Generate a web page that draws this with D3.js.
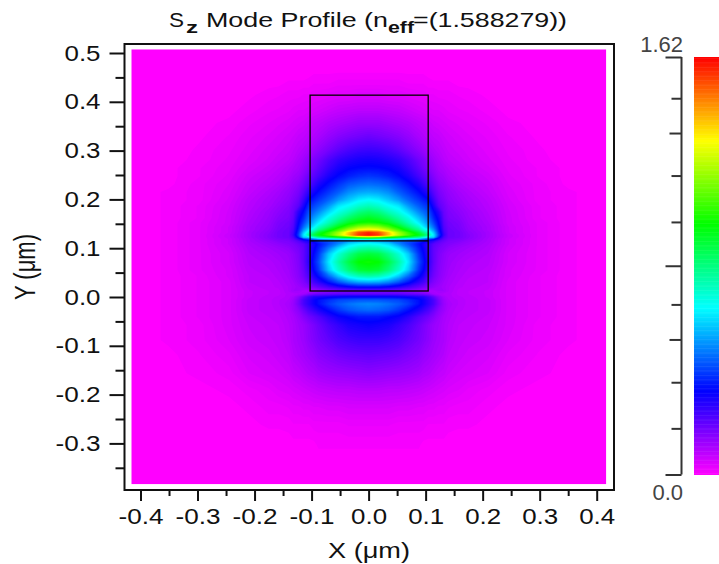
<!DOCTYPE html>
<html>
<head>
<meta charset="utf-8">
<script src="https://cdn.jsdelivr.net/npm/d3@7"></script>
<style>
  html, body { margin: 0; background: #fff; }
  svg { display: block; }
  text { font-family: "Liberation Sans", Arial, sans-serif; fill: #111; }
</style>
</head>
<body>
<svg></svg>
<script>
const width = 719;
const height = 564;

const xTicks = [-0.4, -0.3, -0.2, -0.1, 0, 0.1, 0.2, 0.3, 0.4];
const xMinorTicks = [-0.35, -0.25, -0.15, -0.05, 0.05, 0.15, 0.25, 0.35];
const yTicks = [-0.3, -0.2, -0.1, 0, 0.1, 0.2, 0.3, 0.4, 0.5];
const yMinorTicks = [-0.35, -0.25, -0.15, -0.05, 0.05, 0.15, 0.25, 0.35, 0.45];

const colorStops = [0, 0.324, 0.648, 0.972, 1.296, 1.62];
const colorNames = ["#ff00ff", "#0000ff", "#00ffff", "#00ff00", "#ffff00", "#ff0000"];
const barMajorTicks = [0, 0.81, 1.62];
const barMiddleTicks = [0.524, 1.325];
const barMinorTicks = [0.179, 0.358, 0.66, 0.98, 1.16, 1.46];

const boxX = [-0.1026, 0.1045];
const boxY = [0.0123, 0.4136];
const interfaceY = 0.115;

const fieldX = [0, 0.0175, 0.035, 0.053, 0.07, 0.088, 0.096, 0.105, 0.114, 0.123, 0.132, 0.14, 0.158, 0.175, 0.21, 0.245, 0.298, 0.351, 0.42];
const fieldY = [0.51, 0.465, 0.4385, 0.414, 0.383, 0.3566, 0.328, 0.301, 0.281, 0.264, 0.248, 0.2316, 0.215, 0.199, 0.1865, 0.174, 0.162, 0.152, 0.1434, 0.137, 0.132, 0.127, 0.123, 0.119, 0.115, 0.1086, 0.1004, 0.088, 0.0717, 0.0553, 0.043, 0.0307, 0.0205, 0.0123, 0.006, 0, -0.006, -0.0143, -0.0266, -0.041, -0.0574, -0.088, -0.119, -0.156, -0.1906, -0.2254, -0.262, -0.303, -0.344, -0.385];
const fieldRows = [
  [0,0,0,0,0,0,0,0,0,0,0,0,0,0,0,0,0,0,0],
  [.005,.005,.005,.005,.005,.005,.005,.005,0,0,0,0,0,0,0,0,0,0,0],
  [.02,.02,.02,.02,.015,.015,.015,.01,.01,.01,.01,.01,.005,.005,0,0,0,0,0],
  [.045,.045,.04,.04,.035,.03,.03,.025,.025,.02,.02,.02,.015,.012,.006,0,0,0,0],
  [.085,.085,.08,.075,.065,.055,.05,.045,.04,.04,.035,.03,.025,.022,.012,.005,0,0,0],
  [.13,.13,.12,.11,.10,.085,.08,.07,.06,.055,.05,.045,.038,.032,.022,.01,.005,0,0],
  [.19,.18,.17,.155,.135,.11,.10,.09,.08,.075,.065,.06,.05,.042,.03,.017,.006,0,0],
  [.25,.245,.23,.205,.175,.145,.13,.115,.10,.09,.08,.07,.06,.052,.036,.022,.01,0,0],
  [.30,.295,.28,.26,.225,.18,.165,.14,.12,.105,.09,.08,.07,.058,.042,.026,.01,.005,0],
  [.335,.33,.32,.295,.255,.205,.18,.16,.135,.115,.105,.095,.08,.068,.05,.03,.015,.005,0],
  [.39,.38,.36,.33,.29,.235,.21,.19,.155,.13,.12,.105,.09,.078,.06,.034,.015,.005,0],
  [.46,.45,.43,.385,.34,.285,.25,.22,.18,.15,.135,.12,.10,.088,.068,.04,.02,.005,0],
  [.54,.53,.50,.44,.39,.335,.30,.27,.21,.17,.15,.135,.115,.10,.075,.045,.02,.01,0],
  [.65,.63,.58,.52,.45,.39,.36,.33,.25,.19,.165,.145,.125,.11,.085,.05,.02,.01,0],
  [.74,.71,.66,.62,.52,.44,.41,.38,.29,.21,.18,.155,.135,.115,.09,.055,.025,.01,0],
  [.84,.81,.74,.68,.60,.50,.46,.42,.335,.27,.19,.165,.145,.125,.095,.058,.025,.01,0],
  [.93,.90,.84,.76,.68,.57,.52,.46,.37,.30,.20,.17,.155,.13,.10,.06,.025,.01,0],
  [1.0,.98,.93,.84,.74,.63,.57,.50,.41,.32,.21,.18,.165,.135,.105,.06,.03,.01,0],
  [1.18,1.15,1.06,.95,.83,.72,.63,.56,.46,.34,.22,.185,.17,.14,.11,.065,.03,.01,0],
  [1.33,1.30,1.2,1.06,.93,.80,.70,.64,.52,.36,.23,.19,.175,.145,.11,.065,.03,.01,0],
  [1.58,1.52,1.36,1.17,1.03,.90,.80,.71,.58,.38,.24,.19,.18,.15,.115,.065,.03,.01,0],
  [1.6,1.55,1.38,1.2,1.06,.95,.88,.78,.62,.40,.25,.19,.18,.155,.115,.07,.03,.01,0],
  [1.15,1.10,1.02,.95,.88,.80,.72,.62,.60,.36,.23,.19,.18,.155,.115,.07,.03,.01,0],
  [.72,.70,.65,.62,.58,.52,.47,.42,.36,.28,.21,.18,.17,.15,.11,.065,.03,.01,0],
  [.55,.53,.50,.46,.42,.38,.34,.30,.27,.22,.19,.17,.16,.14,.11,.065,.03,.01,0],
  [.66,.64,.60,.50,.42,.34,.30,.26,.21,.19,.17,.16,.145,.13,.105,.065,.03,.01,0],
  [.76,.74,.68,.60,.48,.36,.31,.26,.20,.175,.16,.145,.13,.12,.10,.06,.03,.01,0],
  [.90,.88,.80,.70,.58,.39,.33,.26,.20,.165,.145,.13,.12,.11,.095,.055,.03,.01,0],
  [.99,.97,.88,.76,.62,.42,.35,.27,.20,.16,.14,.125,.11,.10,.09,.055,.03,.01,0],
  [.92,.90,.82,.71,.58,.39,.33,.25,.19,.155,.135,.12,.105,.095,.085,.05,.03,.01,0],
  [.76,.74,.68,.58,.46,.34,.29,.23,.18,.15,.13,.115,.10,.09,.08,.05,.025,.01,0],
  [.55,.54,.50,.43,.35,.27,.24,.20,.16,.14,.12,.11,.095,.085,.08,.045,.025,.01,0],
  [.33,.33,.31,.28,.24,.20,.18,.16,.14,.125,.115,.105,.09,.085,.075,.045,.025,.01,0],
  [.17,.17,.17,.16,.15,.13,.12,.11,.11,.12,.12,.105,.085,.08,.07,.045,.025,.01,0],
  [.20,.20,.20,.20,.19,.18,.17,.15,.12,.11,.10,.10,.085,.08,.07,.045,.025,.01,0],
  [.33,.33,.33,.32,.31,.29,.28,.25,.20,.15,.115,.10,.09,.085,.07,.045,.025,.01,0],
  [.43,.43,.42,.41,.38,.34,.31,.27,.23,.17,.125,.105,.095,.085,.075,.045,.025,.01,0],
  [.50,.49,.47,.44,.40,.34,.31,.27,.23,.175,.13,.11,.095,.085,.075,.045,.025,.01,0],
  [.46,.45,.43,.39,.34,.29,.26,.23,.19,.15,.125,.105,.09,.085,.075,.045,.025,.01,0],
  [.35,.35,.33,.31,.27,.22,.20,.18,.155,.13,.11,.10,.085,.08,.07,.045,.025,.01,0],
  [.31,.30,.29,.26,.23,.19,.17,.15,.13,.12,.105,.095,.08,.075,.065,.045,.02,.01,0],
  [.25,.25,.24,.225,.20,.175,.16,.145,.125,.115,.105,.09,.075,.07,.06,.04,.02,.01,0],
  [.20,.195,.19,.18,.165,.15,.135,.125,.115,.105,.095,.08,.07,.06,.05,.03,.015,.005,0],
  [.145,.14,.135,.13,.125,.115,.105,.10,.09,.08,.075,.065,.055,.05,.04,.02,.01,.005,0],
  [.09,.09,.085,.085,.08,.075,.07,.065,.06,.055,.05,.045,.04,.03,.02,.01,.005,0,0],
  [.05,.05,.05,.045,.045,.04,.04,.035,.035,.03,.03,.025,.02,.02,.01,.005,0,0,0],
  [.025,.025,.025,.02,.02,.02,.02,.015,.015,.015,.015,.01,.01,.01,.005,0,0,0,0],
  [.01,.01,.01,.01,.01,.01,.005,.005,.005,.005,.005,.005,0,0,0,0,0,0,0],
  [0,0,0,0,0,0,0,0,0,0,0,0,0,0,0,0,0,0,0],
  [0,0,0,0,0,0,0,0,0,0,0,0,0,0,0,0,0,0,0],
];

const svg = d3.select("svg").attr("width", width).attr("height", height);

const xScale = d3.scaleLinear().domain([-0.4, 0.4]).range([140.5, 596.7]);
const yScale = d3.scaleLinear().domain([0, 0.5]).range([297, 53]);
const color = d3.scaleLinear().domain(colorStops).range(colorNames);
const barScale = d3.scaleLinear().domain([0, 1.62]).range([474.5, 57]);

const frame = { left: 124.5, right: 614, top: 44, bottom: 490 };
const heat = { left: 131.3, right: 606.3, top: 49.3, bottom: 484.3 };

// heat map: filled iso-bands over the read grid, mirrored for the left half
const fullX = fieldX.slice(1).reverse().map((d) => -d).concat(fieldX);
const values = [];
fieldRows.forEach((row) => {
  row.slice(1).reverse().concat(row).forEach((v) => values.push(v));
});

const gridX = d3.scaleLinear().domain(fullX.map((d, i) => i + 0.5)).range(fullX.map(xScale));
const gridY = d3.scaleLinear().domain(fieldY.map((d, i) => i + 0.5)).range(fieldY.map(yScale));
const gridPath = d3.geoPath(d3.geoTransform({
  point(x, y) {
    this.stream.point(gridX(x), gridY(y));
  },
}));

const bandStep = 0.008;
const contours = d3.contours()
  .size([fullX.length, fieldY.length])
  .smooth(true)
  .thresholds(d3.range(bandStep, 1.62, bandStep))(values);

svg.append("clipPath").attr("id", "heat-clip").append("rect")
  .attr("x", heat.left).attr("y", heat.top)
  .attr("width", heat.right - heat.left).attr("height", heat.bottom - heat.top);

const heatLayer = svg.append("g").attr("clip-path", "url(#heat-clip)");
heatLayer.append("rect")
  .attr("x", heat.left).attr("y", heat.top)
  .attr("width", heat.right - heat.left).attr("height", heat.bottom - heat.top)
  .attr("fill", color(0));
heatLayer.selectAll("path").data(contours).join("path")
  .attr("d", gridPath)
  .attr("fill", (d) => color(d.value + bandStep / 2));

// waveguide outline
svg.append("rect")
  .attr("x", xScale(boxX[0])).attr("y", yScale(boxY[1]))
  .attr("width", xScale(boxX[1]) - xScale(boxX[0]))
  .attr("height", yScale(boxY[0]) - yScale(boxY[1]))
  .attr("fill", "none").attr("stroke", "#000").attr("stroke-width", 1.3);
svg.append("line")
  .attr("x1", xScale(boxX[0])).attr("x2", xScale(boxX[1]))
  .attr("y1", yScale(interfaceY)).attr("y2", yScale(interfaceY))
  .attr("stroke", "#000").attr("stroke-width", 1.3);

svg.append("rect")
  .attr("x", frame.left).attr("y", frame.top)
  .attr("width", frame.right - frame.left).attr("height", frame.bottom - frame.top)
  .attr("fill", "none").attr("stroke", "#111").attr("stroke-width", 2);

// axes
const styleAxis = (g, stroke) => {
  g.select(".domain").remove();
  g.selectAll("line").attr("stroke", stroke).attr("stroke-width", 2);
};

const xAxis = svg.append("g")
  .attr("transform", "translate(0," + frame.bottom + ")")
  .call(d3.axisBottom(xScale).tickValues(xTicks).tickSize(11).tickPadding(7).tickFormat(d3.format(".1f")))
  .call(styleAxis, "#111");
xAxis.selectAll("text")
  .attr("font-size", 22)
  .attr("textLength", 45)
  .attr("lengthAdjust", "spacingAndGlyphs")
  .text((d) => d3.format(".1f")(d).replace("−", "-"));
xAxis.selectAll("text").filter((d) => d >= 0).attr("textLength", 36);

svg.append("g")
  .attr("transform", "translate(0," + frame.bottom + ")")
  .call(d3.axisBottom(xScale).tickValues(xMinorTicks).tickSize(6).tickFormat(""))
  .call(styleAxis, "#111");

const yAxis = svg.append("g")
  .attr("transform", "translate(" + frame.left + ",0)")
  .call(d3.axisLeft(yScale).tickValues(yTicks).tickSize(15).tickPadding(9).tickFormat(d3.format(".1f")))
  .call(styleAxis, "#111");
yAxis.selectAll("text")
  .attr("font-size", 22)
  .attr("textLength", 36)
  .attr("lengthAdjust", "spacingAndGlyphs")
  .text((d) => d3.format(".1f")(d).replace("−", "-"));
yAxis.selectAll("text").filter((d) => d < 0).attr("textLength", 45);

svg.append("g")
  .attr("transform", "translate(" + frame.left + ",0)")
  .call(d3.axisLeft(yScale).tickValues(yMinorTicks).tickSize(9).tickFormat(""))
  .call(styleAxis, "#111");

// title, pieces placed one by one because of the subscripts
const titleParts = [
  { text: "S", x: 169, y: 27, size: 21, len: 15 },
  { text: "z", x: 186, y: 33, size: 16, len: 12, weight: "bold" },
  { text: "Mode Profile (n", x: 206, y: 27, size: 21, len: 182 },
  { text: "eff", x: 388, y: 33, size: 16, len: 26, weight: "bold" },
  { text: "=(1.588279))", x: 413, y: 27, size: 21, len: 154 },
];
svg.selectAll(".title").data(titleParts).join("text")
  .attr("class", "title")
  .attr("x", (d) => d.x).attr("y", (d) => d.y)
  .attr("font-size", (d) => d.size)
  .attr("font-weight", (d) => d.weight || "normal")
  .attr("textLength", (d) => d.len)
  .attr("lengthAdjust", "spacingAndGlyphs")
  .text((d) => d.text);

svg.append("text")
  .attr("x", 369).attr("y", 558)
  .attr("text-anchor", "middle")
  .attr("font-size", 22)
  .attr("textLength", 82)
  .attr("lengthAdjust", "spacingAndGlyphs")
  .text("X (μm)");

svg.append("text")
  .attr("transform", "translate(35,267) scale(1.3,1) rotate(-90)")
  .attr("text-anchor", "middle")
  .attr("font-size", 22)
  .text("Y (μm)");

// colour bar
const barSteps = d3.range(0, 1.62, 0.005);
svg.append("g").selectAll("rect").data(barSteps).join("rect")
  .attr("x", 694)
  .attr("width", width - 694)
  .attr("y", (d) => barScale(d + 0.005))
  .attr("height", (d) => barScale(d) - barScale(d + 0.005) + 0.5)
  .attr("fill", (d) => color(d + 0.0025));

const barAxis = (values, size) =>
  svg.append("g")
    .attr("transform", "translate(681.5,0)")
    .call(d3.axisLeft(barScale).tickValues(values).tickSize(size).tickFormat(""))
    .call(styleAxis, "#333");

barAxis(barMajorTicks, 16);
barAxis(barMiddleTicks, 12);
barAxis(barMinorTicks, 10);

svg.append("line")
  .attr("x1", 681.5).attr("x2", 681.5)
  .attr("y1", barScale(1.62)).attr("y2", barScale(0))
  .attr("stroke", "#333").attr("stroke-width", 2);

svg.append("text")
  .attr("x", 683).attr("y", 51.5).attr("text-anchor", "end")
  .attr("font-size", 22).style("fill", "#444")
  .text("1.62");
svg.append("text")
  .attr("x", 683).attr("y", 500).attr("text-anchor", "end")
  .attr("font-size", 22).style("fill", "#444")
  .text("0.0");
</script>
</body>
</html>
